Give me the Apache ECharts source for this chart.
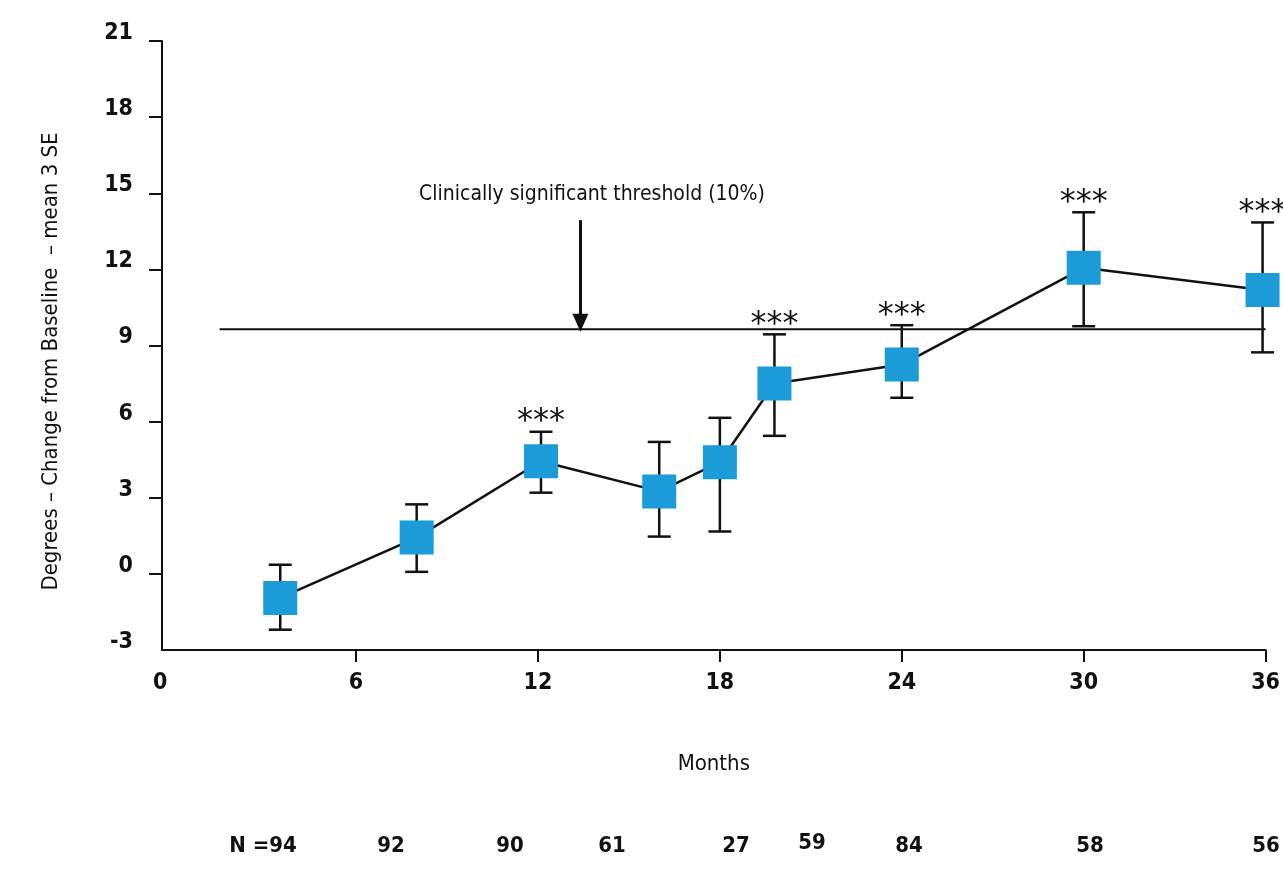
<!DOCTYPE html>
<html>
<head>
<meta charset="utf-8">
<style>
html,body{margin:0;padding:0;background:#fff;}
#chart{width:1283px;height:870px;}
</style>
<script src="https://cdn.jsdelivr.net/npm/echarts@6/dist/echarts.min.js"></script>
</head>
<body>
<div id="chart"></div>
<script>
// months of each visit and the mean change (degrees) with its SE range
var months = [3.5, 8.0, 12.1, 16.0, 18.0, 19.8, 24.0, 30.0, 35.9];
var meanChange = [-0.95, 1.43, 4.44, 3.25, 4.4, 7.5, 8.25, 12.06, 11.19];
var errLow = [-2.2, 0.08, 3.2, 1.47, 1.67, 5.44, 6.94, 9.76, 8.73];
var errHigh = [0.36, 2.74, 5.6, 5.2, 6.15, 9.44, 9.8, 14.25, 13.85];
var significant = [0, 0, 1, 0, 0, 1, 1, 1, 1];
var xTicks = [0, 6, 12, 18, 24, 30, 36];
var yTicks = [-3, 0, 3, 6, 9, 12, 15, 18, 21];
var thresholdValue = 9.64;
var thresholdMonths = [1.5, 36];
var arrowMonth = 13.4;
var arrowFrom = 13.94;
var arrowTo = 9.9;
var nCounts = ['N =94', '92', '90', '61', '27', '59', '84', '58', '56'];

var narrow = "'Liberation Sans Narrow', 'DejaVu Sans Condensed', sans-serif";
var nLabelX = [263, 391, 510, 612, 736, 812, 909, 1090, 1266];
var nLabelY = [846, 846, 846, 846, 846, 843, 846, 846, 846];

var chart = echarts.init(document.getElementById('chart'));

var texts = nCounts.map(function (t, i) {
    return {
        type: 'text', x: nLabelX[i], y: nLabelY[i],
        style: {text: t, font: 'bold 22px ' + narrow, fill: '#111',
            textAlign: 'center', textVerticalAlign: 'middle'}
    };
});
texts.push({
    type: 'text', x: 592, y: 195,
    style: {text: 'Clinically significant threshold (10%)', font: '21px ' + narrow,
        fill: '#111', textAlign: 'center', textVerticalAlign: 'middle'}
});

chart.setOption({
    animation: false,
    grid: {left: 162, right: 13, top: 41, bottom: 220},
    xAxis: {
        type: 'value', min: -0.4, max: 36,
        name: 'Months', nameLocation: 'middle', nameGap: 103,
        nameTextStyle: {fontFamily: narrow, fontSize: 22, color: '#111'},
        splitLine: {show: false},
        axisLine: {onZero: false, lineStyle: {color: '#111', width: 2}},
        axisTick: {show: true, length: 12, lineStyle: {color: '#111', width: 2},
            customValues: xTicks.slice(1)},
        axisLabel: {
            customValues: xTicks, margin: 22, color: '#111',
            fontFamily: narrow, fontSize: 23, fontWeight: 'bold',
            formatter: function (v) { return v === 0 ? '{z|0}' : String(v); },
            rich: {z: {fontFamily: narrow, fontSize: 23, fontWeight: 'bold', color: '#111', padding: [0, 28, 0, 0]}}
        }
    },
    yAxis: {
        type: 'value', min: -3, max: 21, interval: 3,
        name: 'Degrees – Change from Baseline  – mean 3 SE', nameLocation: 'middle', nameGap: 100,
        nameTextStyle: {fontFamily: narrow, fontSize: 22, color: '#111', padding: [0, 32, 0, 0]},
        splitLine: {show: false},
        axisLine: {onZero: false, lineStyle: {color: '#111', width: 2}},
        axisTick: {show: true, length: 13, lineStyle: {color: '#111', width: 2},
            customValues: yTicks.slice(1)},
        axisLabel: {
            customValues: yTicks, margin: 29, color: '#111',
            fontFamily: narrow, fontSize: 23, fontWeight: 'bold',
            verticalAlign: 'bottom', lineHeight: 16
        }
    },
    graphic: texts,
    series: [
        {
            type: 'line', silent: true, symbol: 'none',
            data: thresholdMonths.map(function (m) { return [m, thresholdValue]; }),
            lineStyle: {color: '#111', width: 2},
            markLine: {
                silent: true, symbol: ['none', 'triangle'], symbolSize: [16, 18],
                label: {show: false},
                lineStyle: {color: '#111', width: 3, type: 'solid'},
                data: [[{coord: [arrowMonth, arrowFrom]}, {coord: [arrowMonth, arrowTo]}]]
            }
        },
        {
            type: 'line', silent: true, symbol: 'none', z: 3,
            data: months.map(function (m, i) { return [m, meanChange[i]]; }),
            lineStyle: {color: '#111', width: 2.5}
        },
        {
            type: 'custom', z: 4, clip: false,
            data: months.map(function (m, i) { return [m, errLow[i], errHigh[i], significant[i]]; }),
            renderItem: function (params, api) {
                var top = api.coord([api.value(0), api.value(2)]);
                var bot = api.coord([api.value(0), api.value(1)]);
                var hw = 11.5;
                var st = {stroke: '#111', lineWidth: 2.5};
                var kids = [
                    {type: 'line', shape: {x1: top[0], y1: top[1], x2: bot[0], y2: bot[1]}, style: st},
                    {type: 'line', shape: {x1: top[0] - hw, y1: top[1], x2: top[0] + hw, y2: top[1]}, style: st},
                    {type: 'line', shape: {x1: bot[0] - hw, y1: bot[1], x2: bot[0] + hw, y2: bot[1]}, style: st}
                ];
                if (api.value(3)) {
                    kids.push({type: 'text', x: top[0], y: top[1] - 10,
                        style: {text: '***', font: '32px "DejaVu Sans", sans-serif', fill: '#111',
                            textAlign: 'center', textVerticalAlign: 'middle'}});
                }
                return {type: 'group', children: kids};
            }
        },
        {
            type: 'scatter', z: 5, symbol: 'rect', symbolSize: 34,
            data: months.map(function (m, i) { return [m, meanChange[i]]; }),
            itemStyle: {color: '#1b9bd7', opacity: 1}
        }
    ]
});
</script>
</body>
</html>
